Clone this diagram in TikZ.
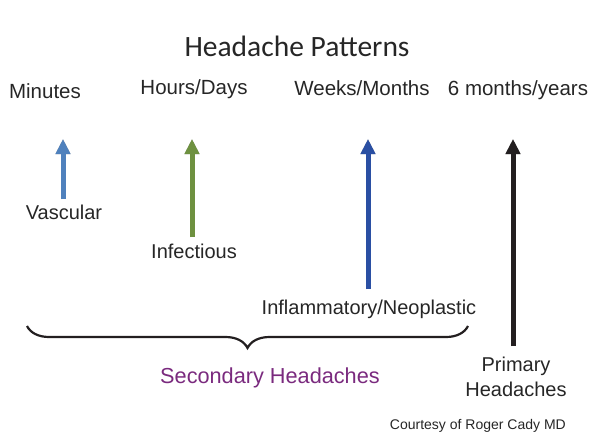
\documentclass[tikz,border=0pt]{standalone}
\usepackage{fontspec}
\setmainfont{Liberation Sans}
\newfontfamily\titlefont{Carlito}
\usetikzlibrary{arrows.meta,decorations.pathreplacing}

\definecolor{vascblue}{HTML}{4F81BD}
\definecolor{infgreen}{HTML}{6E9140}
\definecolor{neoblue}{HTML}{2A4FA3}
\definecolor{primblack}{HTML}{231F20}
\definecolor{secpurple}{HTML}{7A2A7E}
\definecolor{textgray}{HTML}{262626}

\begin{document}
\begin{tikzpicture}[
    x=1pt, y=-1pt,
    timelabel/.style={anchor=base, inner sep=0pt, font=\fontsize{20.5}{24}\selectfont, text=textgray},
    causelabel/.style={anchor=base, inner sep=0pt, font=\fontsize{20}{24}\selectfont, text=textgray},
    uparrow/.style={line width=5pt, -{Triangle[length=15pt, width=14pt]}},
    shadowarrow/.style={uparrow, draw=black!35, shift={(1.8,1.8)}}
]
\useasboundingbox (0,0) rectangle (594,436);

% Title
\node[font=\titlefont\fontsize{29.5}{34}\selectfont, text=textgray, inner sep=0pt] (title) at (297, 46) {Headache Patterns};

% Time scales
\node[timelabel] (minutes) at (45, 98) {Minutes};
\node[timelabel] (hours) at (194, 94) {Hours/Days};
\node[timelabel] (weeks) at (362, 95) {Weeks/Months};
\node[timelabel] (years) at (518, 95) {6 months/years};

% Arrow ends
\coordinate (vasc-bot) at (63, 199);
\coordinate (vasc-top) at (63, 139);
\coordinate (inf-bot) at (192, 237);
\coordinate (inf-top) at (192, 139);
\coordinate (neo-bot) at (368, 289);
\coordinate (neo-top) at (368, 139);
\coordinate (prim-bot) at (513, 346);
\coordinate (prim-top) at (513, 139);

% Shadows
\draw[shadowarrow] (vasc-bot) -- (vasc-top);
\draw[shadowarrow] (inf-bot) -- (inf-top);
\draw[shadowarrow] (neo-bot) -- (neo-top);
\draw[shadowarrow] (prim-bot) -- (prim-top);

% Arrows
\draw[uparrow, vascblue] (vasc-bot) -- (vasc-top);
\draw[uparrow, infgreen] (inf-bot) -- (inf-top);
\draw[uparrow, neoblue] (neo-bot) -- (neo-top);
\draw[uparrow, primblack] (prim-bot) -- (prim-top);

% Causes
\node[causelabel] (vascular) at (64, 219) {Vascular};
\node[causelabel] (infectious) at (194, 258) {Infectious};
\node[causelabel] (neoplastic) at (369, 314) {Inflammatory/Neoplastic};

% Brace
\coordinate (brace-left) at (27, 326);
\coordinate (brace-right) at (468, 326);
\draw[line width=2.2pt, primblack, decorate, decoration={brace, mirror, amplitude=22pt, aspect=0.5}] (brace-left) -- (brace-right);

\node[anchor=base, inner sep=0pt, font=\fontsize{21.7}{26}\selectfont, text=secpurple] (secondary) at (270, 383) {Secondary Headaches};
\node[align=center, inner sep=0pt, font=\fontsize{20}{24.5}\selectfont, text=textgray] (primary) at (516, 377) {Primary\\Headaches};

\node[anchor=base east, inner sep=0pt, font=\fontsize{14}{16}\selectfont, text=textgray] (courtesy) at (566, 429) {Courtesy of Roger Cady MD};

\end{tikzpicture}
\end{document}
